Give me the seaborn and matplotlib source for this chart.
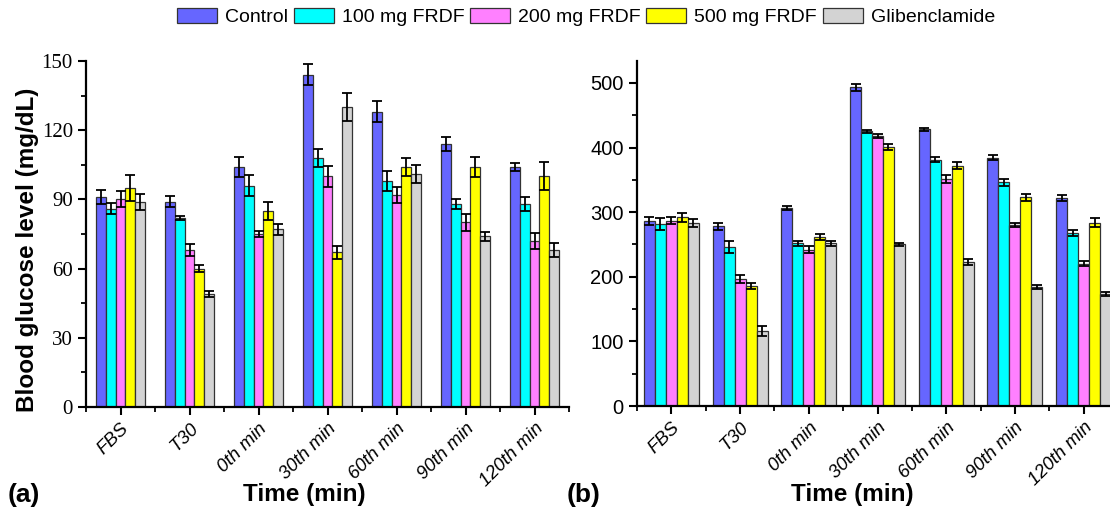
import numpy as np
import pandas as pd
import matplotlib
matplotlib.use("Agg")
import matplotlib.pyplot as plt
from matplotlib.ticker import MultipleLocator
import seaborn as sns

# ---------------- data ----------------
times = ["FBS", "T30", "0th min", "30th min", "60th min", "90th min", "120th min"]
groups = ["Control", "100 mg FRDF", "200 mg FRDF", "500 mg FRDF", "Glibenclamide"]
colors = ["#6666FF", "#00FFFF", "#FF80FF", "#FFFF00", "#D3D3D3"]

# panel (a): normal rats
a_control = [91, 89, 104, 144, 128, 114, 104]
a_100 = [86, 82, 96, 108, 98, 88, 88]
a_200 = [90, 68, 75, 100, 92, 80, 72]
a_500 = [95, 60, 85, 67, 104, 104, 100]
a_glib = [89, 49, 77, 130, 101, 74, 68]
a_err_control = [3, 2.5, 4.5, 4.5, 4.5, 3, 1.8]
a_err_100 = [2.5, 1, 4.5, 4, 4.5, 2, 3]
a_err_200 = [3.5, 2.5, 1.5, 4.5, 3.5, 3.5, 3.5]
a_err_500 = [5.5, 1.5, 4, 3, 4, 4.5, 6]
a_err_glib = [3.5, 1.5, 2.5, 6, 4, 2, 3]

# panel (b): diabetic rats
b_control = [286, 278, 307, 493, 428, 384, 322]
b_100 = [282, 246, 252, 425, 381, 346, 268]
b_200 = [287, 196, 242, 418, 351, 280, 220]
b_500 = [292, 186, 262, 401, 372, 323, 284]
b_glib = [283, 116, 252, 250, 223, 184, 174]
b_err_control = [6, 6, 3, 6, 3, 4, 5]
b_err_100 = [9, 9, 4, 2, 4, 6, 5]
b_err_200 = [5, 6, 5, 3, 6, 3, 4]
b_err_500 = [7, 5, 5, 5, 5, 5, 7]
b_err_glib = [6, 8, 4, 3, 4, 3, 3]


def long_df(vals, errs):
    rows = []
    for g, v, e in zip(groups, vals, errs):
        for t, vi, ei in zip(times, v, e):
            rows.append({"Time": t, "Group": g, "Value": vi, "Err": ei})
    return pd.DataFrame(rows)


df_a = long_df([a_control, a_100, a_200, a_500, a_glib],
               [a_err_control, a_err_100, a_err_200, a_err_500, a_err_glib])
df_b = long_df([b_control, b_100, b_200, b_500, b_glib],
               [b_err_control, b_err_100, b_err_200, b_err_500, b_err_glib])

sns.set_style("ticks")
plt.rcParams["font.family"] = ["Liberation Sans", "DejaVu Sans"]
plt.rcParams["text.color"] = "black"
plt.rcParams["axes.labelcolor"] = "black"
plt.rcParams["xtick.color"] = "black"
plt.rcParams["ytick.color"] = "black"

fig = plt.figure(figsize=(11.1, 5.08), dpi=100)
ax_a = fig.add_axes([86 / 1110, 101 / 508, 483 / 1110, 346 / 508])
ax_b = fig.add_axes([637 / 1110, 102 / 508, 481 / 1110, 345 / 508])


def draw(ax, df, width, ymax, major, minor, tickfont):
    sns.barplot(data=df, x="Time", y="Value", hue="Group", order=times,
                hue_order=groups, palette=colors, errorbar=None, width=width,
                edgecolor="#333333", linewidth=0.9, saturation=1, ax=ax,
                legend=True)
    for cont, g in zip(ax.containers, groups):
        errs = df[df["Group"] == g].set_index("Time").loc[times, "Err"].values
        xs = [p.get_x() + p.get_width() / 2 for p in cont.patches]
        hs = [p.get_height() for p in cont.patches]
        ax.errorbar(xs, hs, yerr=errs, fmt="none", ecolor="black",
                    elinewidth=1.3, capsize=3.5, capthick=1.3, zorder=5)
    ax.set_xlim(-0.5, 6.5)
    ax.set_ylim(0, ymax)
    ax.yaxis.set_major_locator(MultipleLocator(major))
    ax.yaxis.set_minor_locator(MultipleLocator(minor))
    ax.set_xticks(range(len(times)), minor=False)
    ax.set_xticks(np.arange(-0.5, 7.0, 1.0), minor=True)
    sns.despine(ax=ax)
    for s in ["left", "bottom"]:
        ax.spines[s].set_linewidth(1.6)
        ax.spines[s].set_color("black")
    ax.tick_params(axis="both", which="major", direction="out", length=6,
                   width=1.5, colors="black", labelcolor="black")
    ax.tick_params(axis="both", which="minor", direction="out", length=3.5,
                   width=1.3, colors="black")
    ax.set_xlabel("")
    ax.set_ylabel("")
    ax.set_xticklabels(times, rotation=45, ha="right", rotation_mode="anchor",
                       fontstyle="italic", fontsize=13.5, color="black",
                       family=["Liberation Sans", "DejaVu Sans"])
    for lab in ax.get_yticklabels():
        lab.set_family(tickfont)
        lab.set_color("black")
        lab.set_fontsize(15 if tickfont[0] == "Liberation Serif" else 14.5)
    ax.get_legend().remove()


draw(ax_a, df_a, 0.7, 150, 30, 15, ["Liberation Serif", "DejaVu Serif"])
handles, labels = ax_a.get_legend_handles_labels()
draw(ax_b, df_b, 0.8, 534, 100, 50, ["Liberation Sans", "DejaVu Sans"])

leg = fig.legend(handles, labels, loc="center",
                 bbox_to_anchor=(586 / 1110, 1 - 17 / 508),
                 ncol=5, frameon=False, fontsize=14, handlelength=2.05,
                 handleheight=0.87, handletextpad=0.41, columnspacing=0.3,
                 borderaxespad=0, borderpad=0, labelcolor="black")

fig.text(28 / 1110, 1 - 250 / 508, "Blood glucose level (mg/dL)", rotation=90,
         ha="center", va="center", fontsize=17.5, fontweight="bold", color="black")
fig.text(304 / 1110, 1 - 495 / 508, "Time (min)", ha="center", va="center",
         fontsize=17.5, fontweight="bold", color="black")
fig.text(852 / 1110, 1 - 495 / 508, "Time (min)", ha="center", va="center",
         fontsize=17.5, fontweight="bold", color="black")
fig.text(8 / 1110, 1 - 495 / 508, "(a)", ha="left", va="center",
         fontsize=19, fontweight="bold", color="black")
fig.text(567 / 1110, 1 - 495 / 508, "(b)", ha="left", va="center",
         fontsize=19, fontweight="bold", color="black")

fig.savefig("out.png", dpi=100)
